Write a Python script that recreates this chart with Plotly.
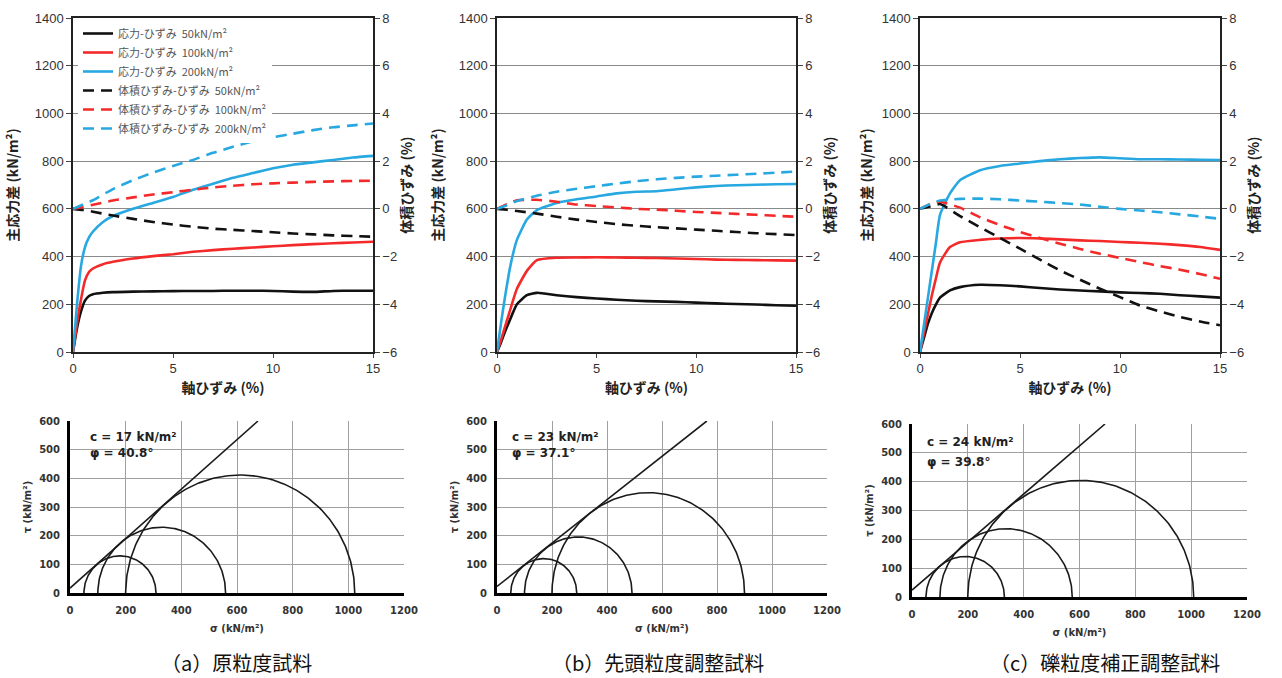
import numpy as np
import plotly.graph_objects as go

# ---------------- data ----------------
strain_s = [0, 0.2, 0.4, 0.6, 0.8, 1.0, 1.5, 2, 3, 4, 5, 6, 7, 8, 9, 10, 11, 12, 13, 14, 15]
strain_v = [0, 0.5, 1, 2, 3, 4, 5, 6, 7, 8, 9, 10, 11, 12, 13, 14, 15]

# deviator stress (kN/m2)
dev_a_50 = [0, 100, 170, 215, 235, 242, 248, 251, 253, 254, 255, 256, 256, 257, 257, 256, 253, 252, 256, 257, 257]
dev_a_100 = [0, 120, 220, 300, 335, 350, 368, 378, 392, 402, 410, 420, 427, 433, 438, 443, 448, 452, 456, 459, 462]
dev_a_200 = [0, 200, 360, 440, 480, 505, 545, 570, 600, 625, 650, 680, 705, 730, 750, 770, 785, 795, 805, 815, 822]

dev_b_50 = [0, 40, 85, 125, 165, 200, 238, 248, 238, 230, 224, 219, 215, 212, 210, 207, 204, 201, 199, 196, 194]
dev_b_100 = [0, 50, 105, 160, 215, 265, 340, 385, 395, 396, 397, 396, 395, 394, 392, 390, 387, 386, 385, 384, 383]
dev_b_200 = [0, 120, 230, 330, 410, 470, 555, 595, 625, 640, 652, 665, 672, 674, 682, 690, 696, 699, 701, 703, 704]

dev_c_50 = [0, 60, 120, 165, 200, 228, 258, 272, 282, 280, 275, 268, 262, 258, 254, 250, 247, 244, 238, 233, 228]
dev_c_100 = [0, 80, 160, 240, 310, 375, 440, 460, 470, 476, 478, 476, 472, 468, 465, 461, 458, 454, 448, 440, 428]
dev_c_200 = [0, 115, 230, 345, 460, 575, 665, 720, 762, 780, 790, 800, 808, 813, 816, 812, 808, 808, 807, 806, 805]

# volumetric strain (%)
vol_a_50 = [0, -0.05, -0.12, -0.28, -0.42, -0.55, -0.66, -0.75, -0.83, -0.88, -0.93, -0.98, -1.03, -1.07, -1.11, -1.14, -1.17]
vol_a_100 = [0, 0.08, 0.17, 0.35, 0.48, 0.6, 0.7, 0.8, 0.9, 0.97, 1.03, 1.07, 1.1, 1.13, 1.15, 1.17, 1.18]
vol_a_200 = [0, 0.18, 0.36, 0.83, 1.2, 1.52, 1.8, 2.05, 2.35, 2.6, 2.83, 3.0, 3.15, 3.3, 3.42, 3.5, 3.58]

vol_b_50 = [0, -0.04, -0.09, -0.2, -0.33, -0.45, -0.55, -0.64, -0.71, -0.77, -0.82, -0.87, -0.92, -0.97, -1.02, -1.06, -1.10]
vol_b_100 = [0, 0.2, 0.36, 0.38, 0.3, 0.18, 0.12, 0.06, 0.0, -0.03, -0.08, -0.13, -0.17, -0.21, -0.25, -0.29, -0.33]
vol_b_200 = [0, 0.15, 0.33, 0.55, 0.72, 0.84, 0.95, 1.06, 1.16, 1.24, 1.3, 1.35, 1.39, 1.43, 1.47, 1.52, 1.56]

vol_c_50 = [0, 0.1, 0.2, -0.3, -0.77, -1.22, -1.67, -2.13, -2.58, -2.97, -3.35, -3.7, -4.05, -4.3, -4.53, -4.72, -4.88]
vol_c_100 = [0, 0.2, 0.3, 0.05, -0.35, -0.68, -0.97, -1.22, -1.46, -1.68, -1.88, -2.06, -2.23, -2.4, -2.55, -2.73, -2.93]
vol_c_200 = [0, 0.2, 0.35, 0.42, 0.43, 0.4, 0.35, 0.3, 0.24, 0.18, 0.09, 0.0, -0.07, -0.14, -0.23, -0.32, -0.42]

# Mohr circles
confining = [50, 100, 200]
peak_a = [259, 459, 823]
peak_b = [240, 391, 700]
peak_c = [281, 474, 809]
coh = {"a": 17, "b": 23, "c": 24}
phi = {"a": 40.8, "b": 37.1, "c": 39.8}

legend_names = [
    "応力-ひずみ\u00a0\u00a050kN/m²",
    "応力-ひずみ\u00a0\u00a0100kN/m²",
    "応力-ひずみ\u00a0\u00a0200kN/m²",
    "体積ひずみ-ひずみ\u00a0\u00a050kN/m²",
    "体積ひずみ-ひずみ\u00a0\u00a0100kN/m²",
    "体積ひずみ-ひずみ\u00a0\u00a0200kN/m²",
]
captions = ["（a）原粒度試料", "（b）先頭粒度調整試料", "（c）礫粒度補正調整試料"]

# ---------------- style ----------------
W, H = 1282, 678
COLORS = ["#111111", "#f42a2a", "#28a8e0"]
JP = "Noto Sans CJK JP"
NUM = "Liberation Sans"


def px_x(p):
    return p / W


def px_y(p):
    return 1 - p / H


fig = go.Figure()

top_panels = [
    ("a", [dev_a_50, dev_a_100, dev_a_200], [vol_a_50, vol_a_100, vol_a_200], (73, 373), 13),
    ("b", [dev_b_50, dev_b_100, dev_b_200], [vol_b_50, vol_b_100, vol_b_200], (497, 796), 12),
    ("c", [dev_c_50, dev_c_100, dev_c_200], [vol_c_50, vol_c_100, vol_c_200], (920, 1220), 6),
]

layout = {}
for i, (key, devs, vols, (x0, x1), lstand) in enumerate(top_panels):
    xa = "x" if i == 0 else f"x{i+1}"
    ya_n = 2 * i + 1
    yb_n = 2 * i + 2
    ya = "y" if ya_n == 1 else f"y{ya_n}"
    yb = f"y{yb_n}"
    for k in range(3):
        fig.add_trace(go.Scatter(
            x=strain_s, y=devs[k], mode="lines", xaxis=xa, yaxis=ya,
            line=dict(color=COLORS[k], width=2.6, shape="spline", smoothing=0.5),
            name=legend_names[k], showlegend=(i == 0), legendrank=k,
        ))
    for k in range(3):
        fig.add_trace(go.Scatter(
            x=strain_v, y=vols[k], mode="lines", xaxis=xa, yaxis=yb,
            line=dict(color=COLORS[k], width=2.6, dash="11px,7px", shape="spline", smoothing=0.5),
            name=legend_names[3 + k], showlegend=(i == 0), legendrank=3 + k,
        ))
    xkey = "xaxis" if i == 0 else f"xaxis{i+1}"
    yakey = "yaxis" if ya_n == 1 else f"yaxis{ya_n}"
    ybkey = f"yaxis{yb_n}"
    layout[xkey] = dict(
        domain=[px_x(x0), px_x(x1)], anchor=ya, range=[0, 15], tickvals=[0, 5, 10, 15],
        showgrid=False, zeroline=False, showline=True, linecolor="#222", linewidth=1.5, mirror=True,
        ticks="outside", ticklen=4, tickcolor="#444", automargin=False,
        tickfont=dict(family=NUM, size=13, color="#333"),
        title=dict(text="軸ひずみ (%)", font=dict(family=JP, size=14, color="#222", weight="bold"), standoff=8),
    )
    layout[yakey] = dict(
        domain=[px_y(352), px_y(18)], anchor=xa, range=[0, 1400], dtick=200,
        showgrid=True, gridcolor="#8a8a8a", gridwidth=1, zeroline=False,
        showline=True, linecolor="#222", linewidth=1.5, automargin=False,
        ticks="outside", ticklen=5, tickcolor="#444",
        tickfont=dict(family=NUM, size=13, color="#333"),
        title=dict(text="主応力差 (kN/m²)", font=dict(family=JP, size=14, color="#222", weight="bold"), standoff=lstand),
    )
    layout[ybkey] = dict(
        overlaying=ya, side="right", anchor=xa, range=[-6, 8], dtick=2,
        showgrid=False, zeroline=False, showline=True, linecolor="#222", linewidth=1.5,
        ticks="outside", ticklen=5, tickcolor="#444", automargin=False,
        tickfont=dict(family=NUM, size=13, color="#333"),
        title=dict(text="体積ひずみ (%)", font=dict(family=JP, size=14, color="#222", weight="bold"), standoff=6),
    )

bottom_panels = [
    ("a", peak_a, (70, 404), (421, 593), (88, 437, 453)),
    ("b", peak_b, (497, 827), (421, 593), (510, 437, 453)),
    ("c", peak_c, (912, 1247), (424, 597), (925, 442, 462)),
]
annotations = []
theta = np.linspace(0, np.pi, 181)
for j, (key, peaks, (x0, x1), (yt, ybm), (tx, ty1, ty2)) in enumerate(bottom_panels):
    xn = 4 + j
    yn = 7 + j
    xa, ya = f"x{xn}", f"y{yn}"
    for s3, q in zip(confining, peaks):
        cen = s3 + q / 2.0
        r = q / 2.0
        fig.add_trace(go.Scatter(
            x=cen + r * np.cos(theta), y=r * np.sin(theta), mode="lines",
            xaxis=xa, yaxis=ya, line=dict(color="#1a1a1a", width=1.6), showlegend=False,
        ))
    tanp = np.tan(np.radians(phi[key]))
    s_end = (600 - coh[key]) / tanp
    sx = np.array([0, s_end])
    fig.add_trace(go.Scatter(
        x=sx, y=coh[key] + tanp * sx, mode="lines", xaxis=xa, yaxis=ya,
        line=dict(color="#1a1a1a", width=1.6), showlegend=False,
    ))
    layout[f"xaxis{xn}"] = dict(
        domain=[px_x(x0), px_x(x1)], anchor=ya, range=[0, 1200], dtick=200,
        showgrid=True, gridcolor="#a0a0a0", gridwidth=1, zeroline=False,
        showline=True, linecolor="#000", linewidth=3, automargin=False,
        ticks="outside", ticklen=6, tickcolor="rgba(0,0,0,0)",
        tickfont=dict(family="DejaVu Sans", size=10, color="#333", weight="bold"),
        title=dict(text="σ (kN/m²)", font=dict(family="DejaVu Sans", size=10, color="#333", weight="bold"), standoff=10),
    )
    layout[f"yaxis{yn}"] = dict(
        domain=[px_y(ybm), px_y(yt)], anchor=xa, range=[0, 600], dtick=100,
        showgrid=True, gridcolor="#a0a0a0", gridwidth=1, zeroline=False,
        showline=True, linecolor="#000", linewidth=3, automargin=False,
        ticks="outside", ticklen=5, tickcolor="rgba(0,0,0,0)",
        tickfont=dict(family="DejaVu Sans", size=10, color="#333", weight="bold"),
        title=dict(text="τ (kN/m²)", font=dict(family="DejaVu Sans", size=10, color="#333", weight="bold"), standoff=6),
    )
    annotations.append(dict(
        text=f"c = {coh[key]} kN/m²", x=px_x(tx), y=px_y(ty1), xref="paper", yref="paper",
        xanchor="left", yanchor="middle", showarrow=False,
        font=dict(family="DejaVu Sans", size=12, color="#222", weight="bold"),
    ))
    annotations.append(dict(
        text=f"φ = {phi[key]}°", x=px_x(tx), y=px_y(ty2), xref="paper", yref="paper",
        xanchor="left", yanchor="middle", showarrow=False,
        font=dict(family="DejaVu Sans", size=12, color="#222", weight="bold"),
    ))

for cap, cx in zip(captions, [236, 658, 1105]):
    annotations.append(dict(
        text=cap, x=px_x(cx), y=px_y(662), xref="paper", yref="paper",
        xanchor="center", yanchor="middle", showarrow=False,
        font=dict(family=JP, size=20, color="#111"),
    ))

fig.update_layout(
    width=W, height=H, margin=dict(l=0, r=0, t=0, b=0),
    paper_bgcolor="white", plot_bgcolor="white",
    showlegend=True,
    legend=dict(
        x=px_x(78), y=px_y(19), xanchor="left", yanchor="top",
        bgcolor="white", borderwidth=0, traceorder="normal",
        font=dict(family=JP, size=11, color="#555"),
        itemwidth=30,
    ),
    annotations=annotations,
    **layout,
)

fig.write_html(
    "out.html",
    config={"displayModeBar": False},
    post_script="document.body.style.margin='0px';document.body.style.overflow='hidden';",
)
